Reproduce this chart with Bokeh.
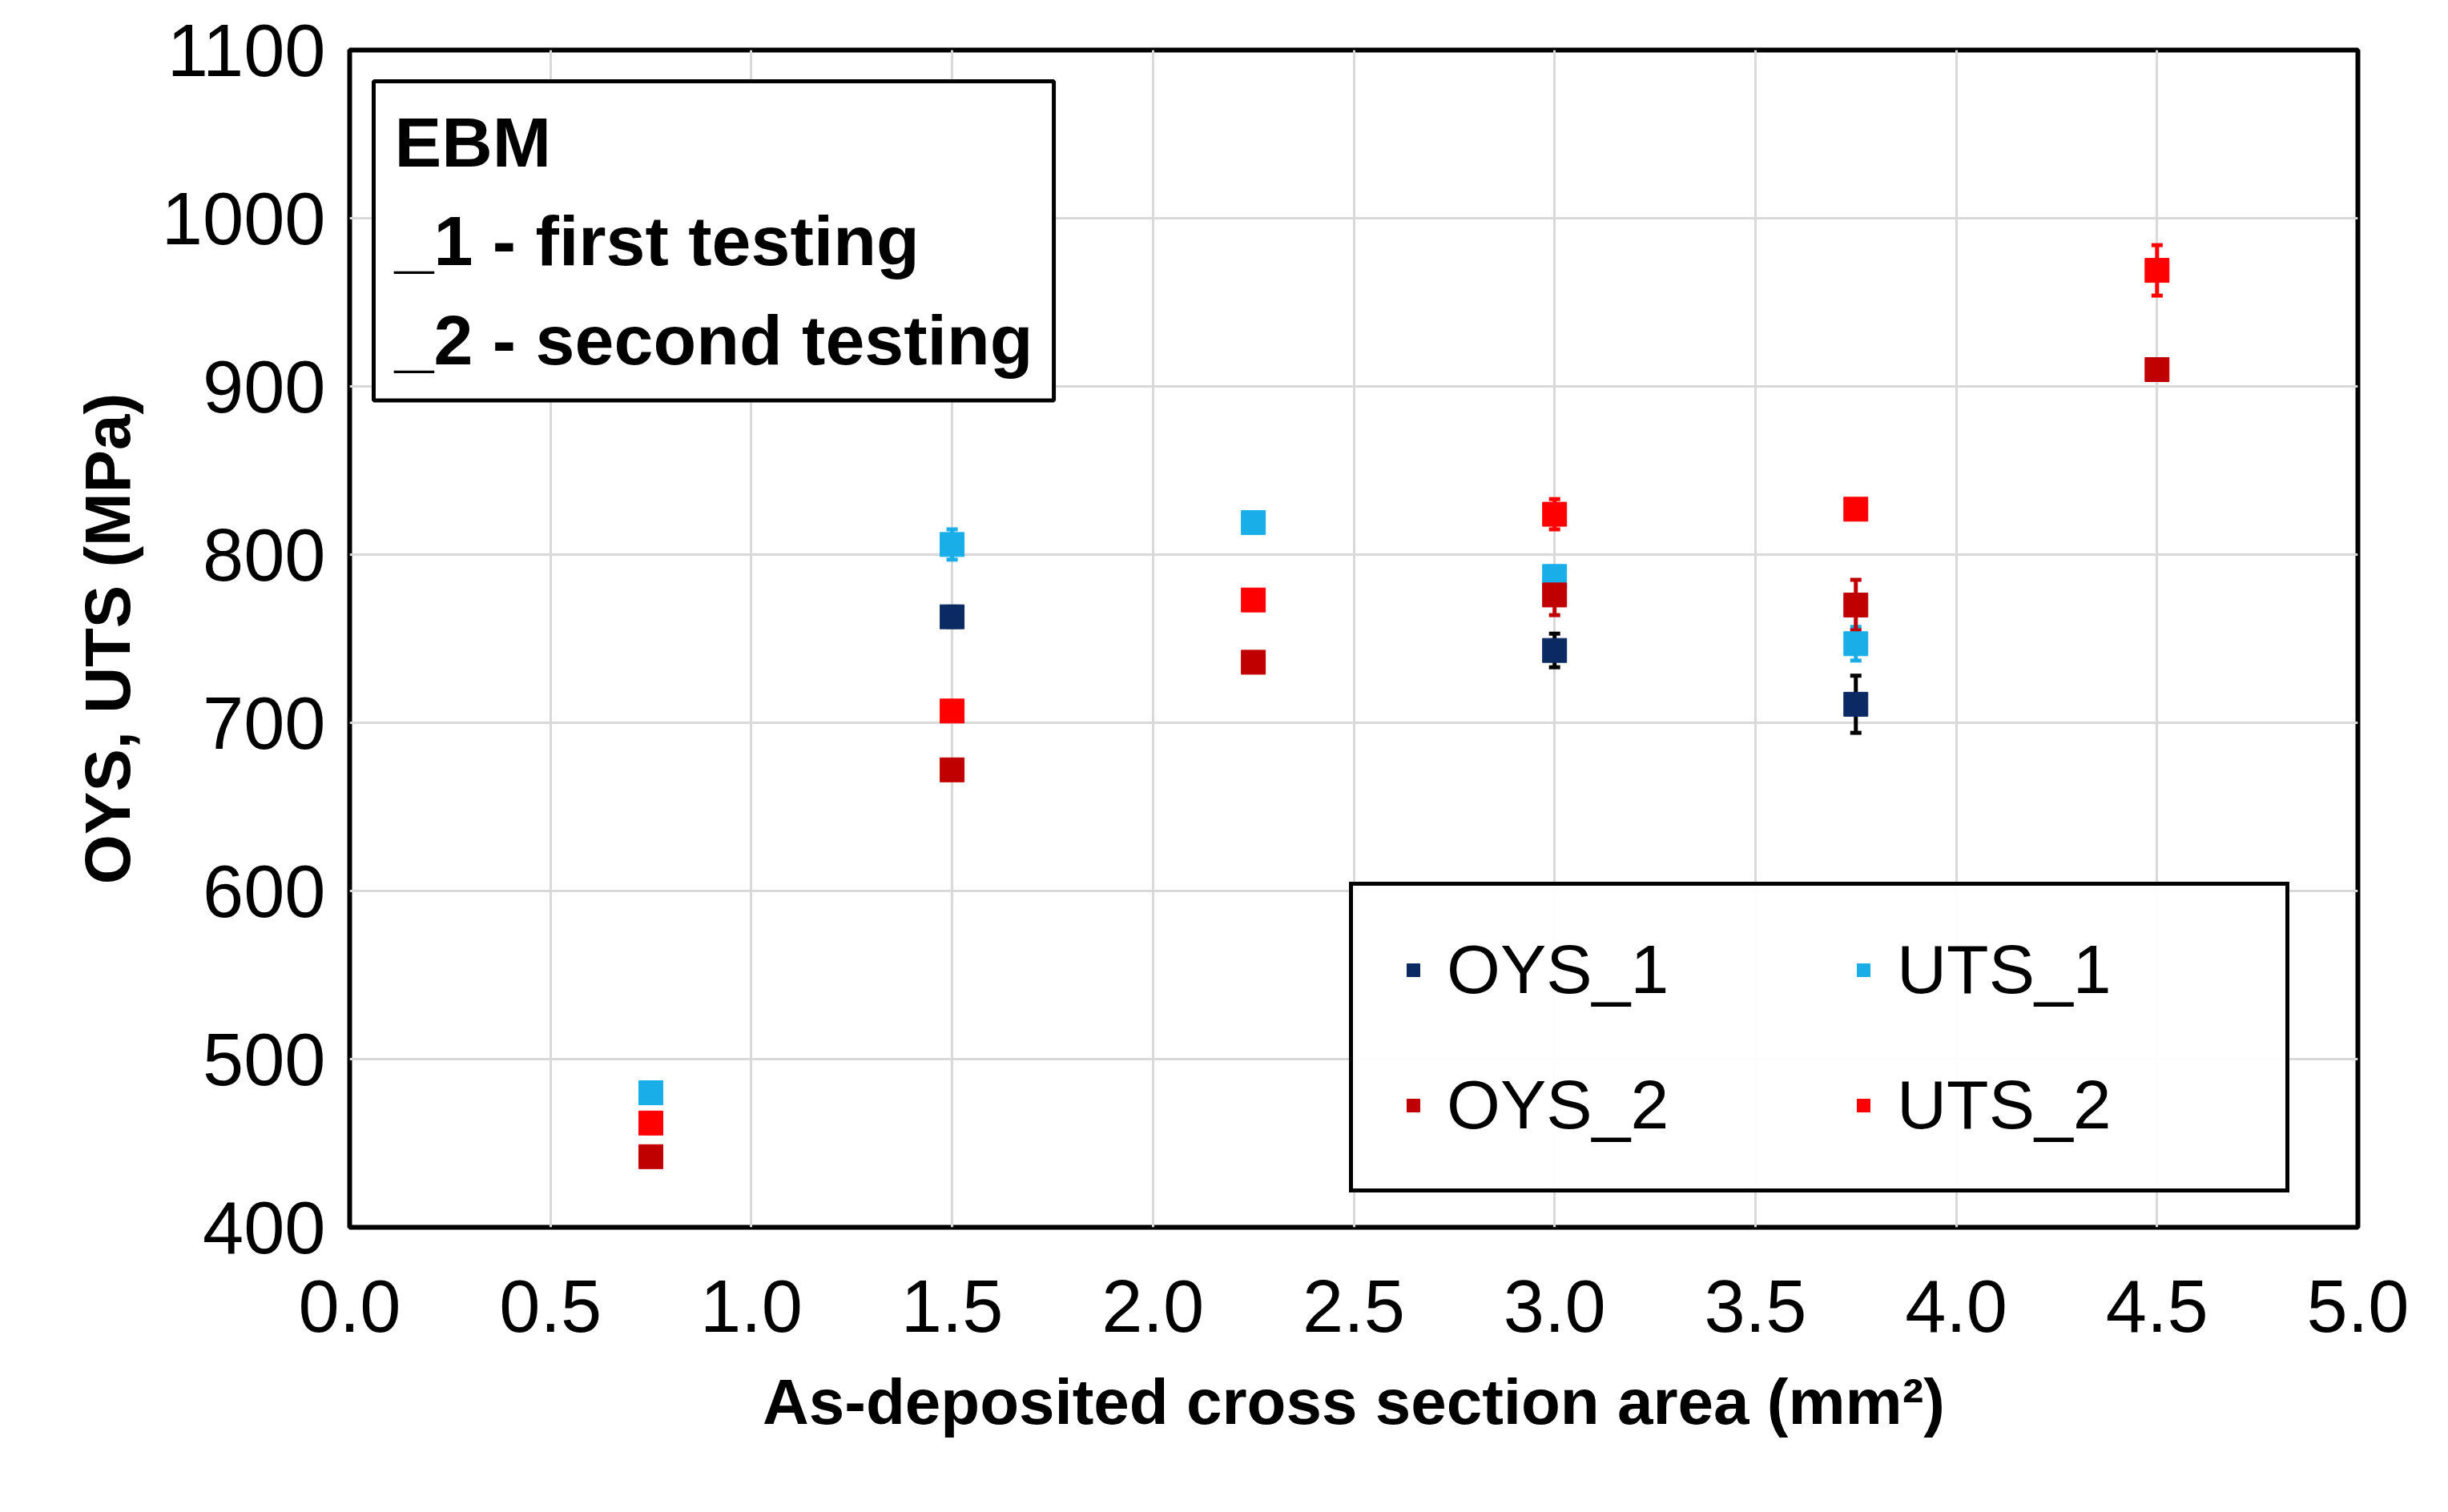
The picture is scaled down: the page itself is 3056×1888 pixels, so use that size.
from bokeh.plotting import figure
from bokeh.models import Legend, LegendItem, Label, FixedTicker, NumeralTickFormatter, Range1d, Whisker, ColumnDataSource
from bokeh.embed import file_html
from bokeh.resources import INLINE

oys1_x = [1.5, 3.0, 3.75]
oys1_y = [763, 743, 711]
oys1_e = [6, 10, 17]
uts1_x = [0.75, 1.5, 2.25, 3.0, 3.75]
uts1_y = [480, 806, 819, 787, 747]
uts1_e = [5, 9, 6, 6, 10]
oys2_x = [0.75, 1.5, 2.25, 3.0, 3.75, 4.5]
oys2_y = [442, 672, 736, 776, 770, 910]
oys2_e = [4, 5, 4, 12, 15, 4]
uts2_x = [0.75, 1.5, 2.25, 3.0, 3.75, 4.5]
uts2_y = [462, 707, 773, 824, 827, 969]
uts2_e = [6, 5, 4, 9, 5, 15]
x_ticks = [0.0, 0.5, 1.0, 1.5, 2.0, 2.5, 3.0, 3.5, 4.0, 4.5, 5.0]
y_ticks = [400, 500, 600, 700, 800, 900, 1000, 1100]

FONT = "Liberation Sans"
p = figure(width=3040, height=1870, output_backend="svg", toolbar_location=None,
           x_range=Range1d(0, 5), y_range=Range1d(400, 1100),
           min_border_left=436, min_border_right=97, min_border_top=62, min_border_bottom=338)
p.outline_line_color = "black"
p.outline_line_width = 6
for ax in (p.xaxis, p.yaxis):
    ax.major_label_text_font = FONT
    ax.major_label_text_font_size = "92px"
    ax.major_label_text_color = "black"
    ax.axis_label_text_font = FONT
    ax.axis_label_text_font_size = "80px"
    ax.axis_label_text_font_style = "bold"
    ax.axis_label_text_color = "black"
    ax.major_tick_line_color = None
    ax.minor_tick_line_color = None
    ax.axis_line_color = None
p.xaxis.ticker = FixedTicker(ticks=x_ticks)
p.yaxis.ticker = FixedTicker(ticks=y_ticks)
p.xaxis.formatter = NumeralTickFormatter(format="0.0")
p.yaxis.formatter = NumeralTickFormatter(format="0")
p.xaxis.axis_label = "As-deposited cross section area (mm²)"
p.yaxis.axis_label = "OYS, UTS (MPa)"
p.xaxis.major_label_standoff = 60
p.yaxis.major_label_standoff = 24
p.xaxis.axis_label_standoff = 40
p.yaxis.axis_label_standoff = 20
p.grid.grid_line_color = "#d9d9d9"
p.grid.grid_line_width = 3

series = [("OYS_1", oys1_x, oys1_y, oys1_e, "#0b2a63", "black"),
          ("UTS_1", uts1_x, uts1_y, uts1_e, "#1aaee8", "#1aaee8"),
          ("OYS_2", oys2_x, oys2_y, oys2_e, "#c00000", "#c00000"),
          ("UTS_2", uts2_x, uts2_y, uts2_e, "#ff0000", "#ff0000")]
renderers = {}
for name, xs, ys, es, col, ecol in series:
    src = ColumnDataSource(dict(x=xs, y=ys, lo=[a - b for a, b in zip(ys, es)], hi=[a + b for a, b in zip(ys, es)]))
    w = Whisker(base="x", lower="lo", upper="hi", source=src, line_color=ecol, line_width=5)
    w.upper_head.line_color = ecol; w.lower_head.line_color = ecol
    w.upper_head.size = 14; w.lower_head.size = 14
    w.upper_head.line_width = 5; w.lower_head.line_width = 5
    p.add_layout(w)
    renderers[name] = p.scatter("x", "y", source=src, marker="square", size=30, fill_color=col, line_color=col)

legend = Legend(items=[LegendItem(label=n, renderers=[renderers[n]]) for n in ["OYS_1", "OYS_2", "UTS_1", "UTS_2"]],
                location=(1248, 43), ncols=2, orientation="vertical")
legend.label_text_font = FONT
legend.label_text_font_size = "86px"
legend.label_text_color = "black"
legend.border_line_color = "black"
legend.border_line_alpha = 1.0
legend.border_line_width = 5
legend.padding = 55
legend.spacing = 70
legend.glyph_width = 40
legend.glyph_height = 40
legend.label_standoff = 22
legend.label_width = 430
legend.margin = 0
p.add_layout(legend, "center")

lab = Label(x=30, y=1431, x_units="screen", y_units="screen",
            text="EBM\n_1 - first testing\n_2 - second testing",
            text_font=FONT, text_font_size="88px", text_font_style="bold", text_color="black",
            text_baseline="top", border_line_color="black", border_line_width=5,
            background_fill_color="white", padding=26, text_line_height=1.25)
p.add_layout(lab)

open("out.html", "w").write(file_html(p, INLINE))
